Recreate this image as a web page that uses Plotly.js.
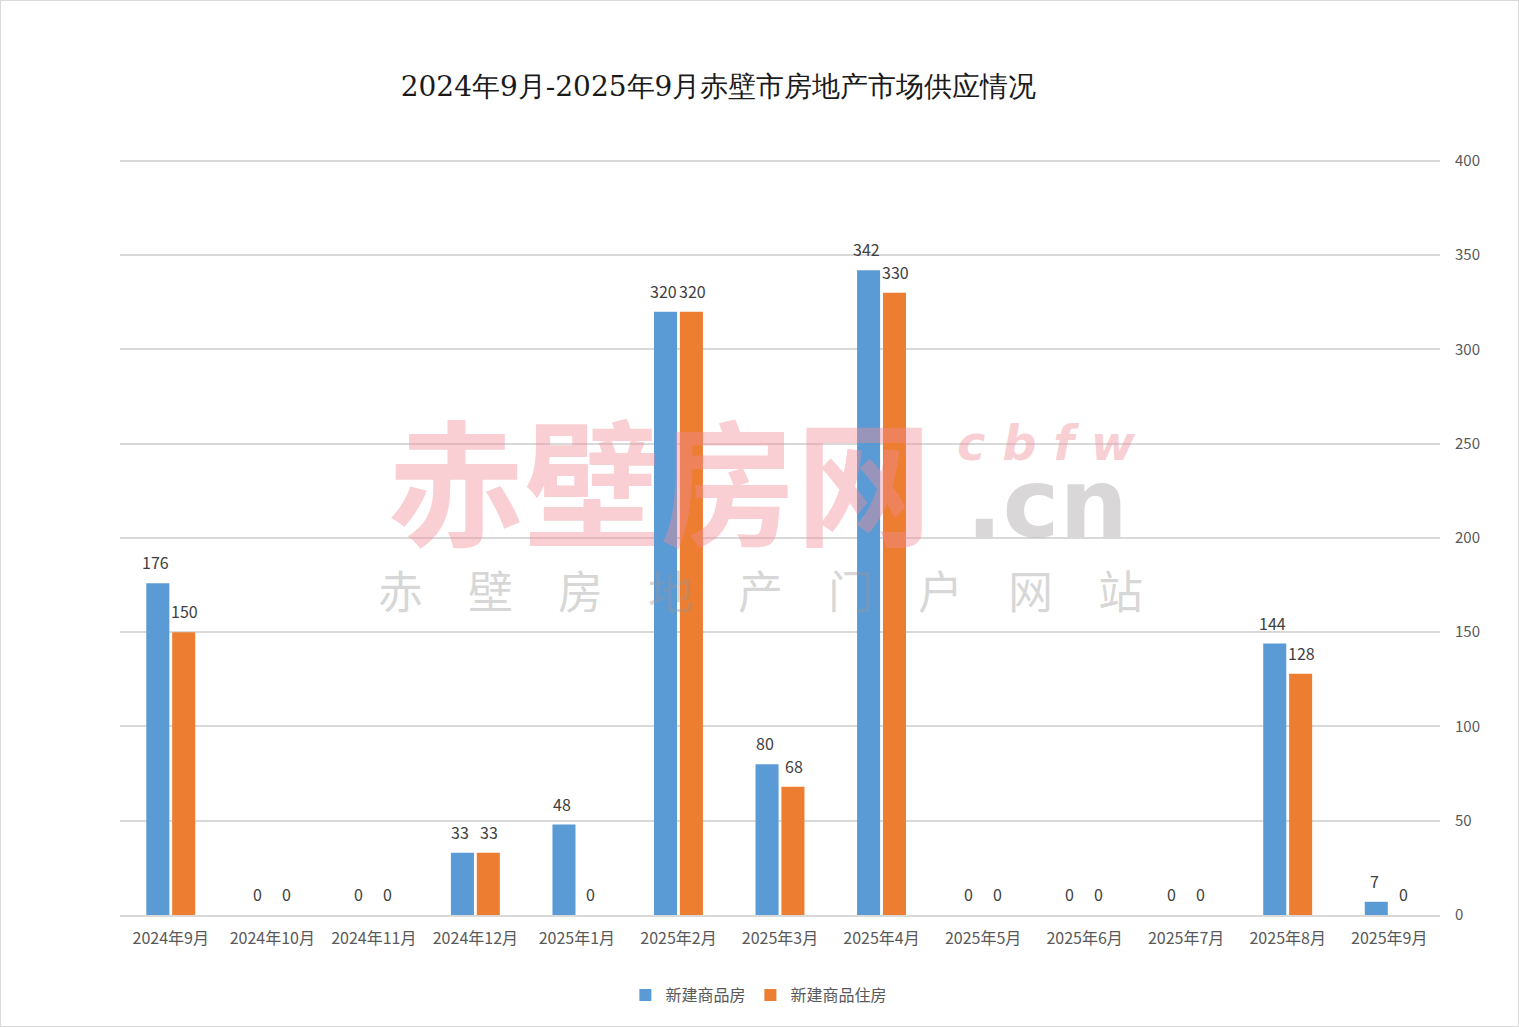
<!DOCTYPE html>
<html>
<head>
<meta charset="utf-8">
<script src="https://cdn.plot.ly/plotly-3.0.1.min.js"></script>
<style>
html,body{margin:0;padding:0;background:#fff;}
#frame{position:absolute;left:0;top:0;width:1517px;height:1025px;border:1px solid #d9d9d9;}
#chart{width:1517px;height:1025px;}
</style>
</head>
<body>
<div id="frame"><div id="chart"></div></div>
<script>
const months = ["2024年9月","2024年10月","2024年11月","2024年12月","2025年1月","2025年2月","2025年3月","2025年4月","2025年5月","2025年6月","2025年7月","2025年8月","2025年9月"];
const seriesA = [176, 0, 0, 33, 48, 320, 80, 342, 0, 0, 0, 144, 7];
const seriesB = [150, 0, 0, 33, 0, 320, 68, 330, 0, 0, 0, 128, 0];
const nameA = "新建商品房";
const nameB = "新建商品住房";
const yTicks = [0, 50, 100, 150, 200, 250, 300, 350, 400];
const titleText = "2024年9月-2025年9月赤壁市房地产市场供应情况";

const cjk = "Noto Sans CJK SC, sans-serif";

const traces = [
  {type:'bar', name:nameA, x:months, y:seriesA, marker:{color:'#5B9BD5'}, hoverinfo:'none'},
  {type:'bar', name:nameB, x:months, y:seriesB, marker:{color:'#ED7D31'}, hoverinfo:'none'}
];

const annotations = [];
months.forEach((m,i)=>{
  annotations.push({x:m, y:seriesA[i], xref:'x', yref:'y', text:String(seriesA[i]), showarrow:false,
    xshift:-15, yshift:21, font:{family:cjk, size:16, color:'#404040'}});
  annotations.push({x:m, y:seriesB[i], xref:'x', yref:'y', text:String(seriesB[i]), showarrow:false,
    xshift:14, yshift:21, font:{family:cjk, size:16, color:'#404040'}});
});

// watermark
annotations.push({xref:'paper', yref:'paper', x:0.409, y:0.58, xanchor:'center', yanchor:'middle', text:'<b>赤壁房网</b>', showarrow:false,
  font:{family:cjk, size:136, color:'rgba(240,140,150,0.42)'}});
annotations.push({xref:'paper', yref:'paper', x:0.702, y:0.625, xanchor:'center', yanchor:'middle', text:'<b><i>c b f w</i></b>', showarrow:false,
  font:{family:"DejaVu Sans, sans-serif", size:48, color:'rgba(240,140,150,0.42)'}});
annotations.push({xref:'paper', yref:'paper', x:0.702, y:0.543, xanchor:'center', yanchor:'middle', text:'<b>.cn</b>', showarrow:false,
  font:{family:"DejaVu Sans, sans-serif", size:96, color:'rgba(160,155,155,0.4)'}});
annotations.push({xref:'paper', yref:'paper', x:0.485, y:0.43, xanchor:'center', yanchor:'middle', text:'赤　壁　房　地　产　门　户　网　站', showarrow:false,
  font:{family:cjk, size:45, color:'rgba(150,150,150,0.38)'}});

const layout = {
  width:1517, height:1025,
  margin:{l:119, r:78, t:158, b:111},
  paper_bgcolor:'#ffffff', plot_bgcolor:'#ffffff',
  title:{text:titleText, x:0.473, xanchor:'center', y:0.917, yanchor:'middle',
    font:{family:"DejaVu Serif, serif", size:28, color:'#1a1a1a'}},
  barmode:'group', bargap:0.49, bargroupgap:0.11,
  xaxis:{type:'category', showgrid:false, zeroline:false, showline:true, linecolor:'#d9d9d9', linewidth:2,
    ticks:'', tickfont:{family:cjk, size:16, color:'#595959'}, ticklabelstandoff:8, fixedrange:true},
  yaxis:{range:[0,401], side:'right', tickvals:yTicks, ticktext:yTicks.map(String), showgrid:true, gridcolor:'#d9d9d9', gridwidth:2,
    zeroline:false, showline:false, ticks:'', ticklabelstandoff:14,
    tickfont:{family:cjk, size:15, color:'#595959'}, fixedrange:true},
  legend:{orientation:'h', x:0.484, xanchor:'center', y:-0.106, yanchor:'middle',
    font:{family:cjk, size:16, color:'#595959'}, itemwidth:30, tracegroupgap:0},
  annotations:annotations,
  showlegend:true
};

Plotly.newPlot('chart', traces, layout, {displayModeBar:false, staticPlot:true});
</script>
</body>
</html>
